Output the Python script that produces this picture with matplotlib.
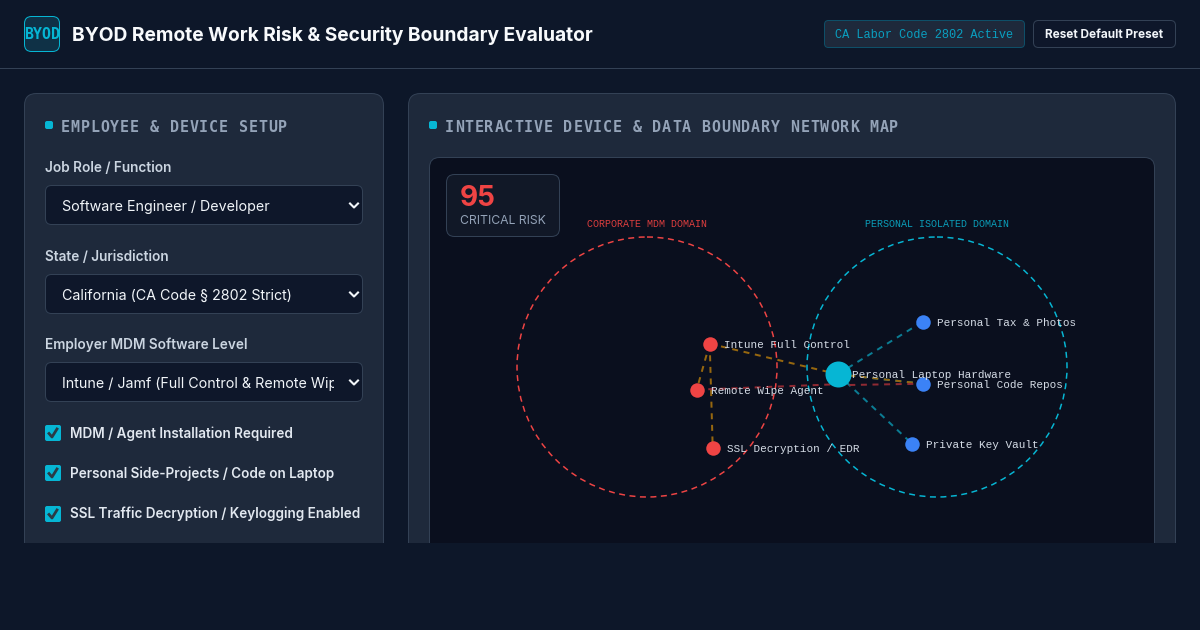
import matplotlib
matplotlib.use("Agg")
import matplotlib.pyplot as plt
from matplotlib.patches import Circle, FancyBboxPatch, Rectangle

BG = "#0d1729"
CARD = "#1e293b"
BORDER = "#334155"
INPUT_BG = "#0e172a"
MAP_BG = "#0a0f1e"
CYAN = "#06b6d4"
RED = "#ef4444"
BLUE = "#3b82f6"
AMBER = "#96670f"
TEAL = "#0b7c93"
DARK_RED = "#8f2a33"
SANS = "Inter"
MONO = "Liberation Mono"
HEAD_MONO = "DejaVu Sans Mono"

# network map data
corp_nodes = ["Intune Full Control", "Remote Wipe Agent", "SSL Decryption / EDR"]
corp_x = [709.7, 696.7, 712.7]
corp_y = [343.7, 389.7, 447.7]
personal_nodes = ["Personal Tax & Photos", "Personal Code Repos", "Private Key Vault"]
personal_x = [922.7, 922.7, 912]
personal_y = [321.7, 383.7, 443.7]
hub_name = "Personal Laptop Hardware"
hub_x = 837.7
hub_y = 374.2
domain_names = ["CORPORATE MDM DOMAIN", "PERSONAL ISOLATED DOMAIN"]
domain_x = [647, 937]
domain_y = [367, 367]
domain_r = 130

# form data
select_labels = ["Job Role / Function", "State / Jurisdiction", "Employer MDM Software Level"]
select_values = ["Software Engineer / Developer", "California (CA Code § 2802 Strict)",
                 "Intune / Jamf (Full Control & Remote Wipe)"]
select_tops = [185, 274, 362]
check_labels = ["MDM / Agent Installation Required", "Personal Side-Projects / Code on Laptop",
                "SSL Traffic Decryption / Keylogging Enabled"]
check_y = [433, 473, 513]
check_box_y = [433, 473, 514]
risk_score = "95"
risk_label = "CRITICAL RISK"


def round_box(ax, x, y, w, h, r, fc, ec, z=1, lw=0.72, clip=None):
    box = FancyBboxPatch((x, y), w, h, boxstyle=f"round,pad=0,rounding_size={r}",
                         fc=fc, ec=ec, lw=lw, zorder=z)
    ax.add_patch(box)
    if clip is not None:
        box.set_clip_path(clip)
    return box


def px(size):
    return size * 0.72


def spaced_text(ax, x, y, s, pitch, **kw):
    # monospace with css letter-spacing
    for i, ch in enumerate(s):
        if ch != " ":
            ax.text(x + i * pitch, y, ch, **kw)


def link(ax, xs, ys, col):
    ax.plot(xs, ys, color=col, lw=1.44, ls=(0, (3, 2.8)), zorder=4)


fig = plt.figure(figsize=(12, 6.3), dpi=100, facecolor=BG)
ax = fig.add_axes([0, 0, 1, 1])
ax.set_xlim(0, 1200)
ax.set_ylim(630, 0)
ax.axis("off")

# page is cut off at y=543
page_clip = Rectangle((0, 0), 1200, 543, transform=ax.transData)

# header
ax.plot([0, 1200], [68, 68], color=BORDER, lw=0.72, zorder=1)
round_box(ax, 24.5, 16.5, 35, 35, 7, "#0f3146", CYAN)
ax.text(42, 34.5, "BYOD", color=CYAN, fontsize=px(15), family=HEAD_MONO, weight="bold", ha="center",
        va="center", zorder=3)
ax.text(72, 35.5, "BYOD Remote Work Risk & Security Boundary Evaluator", color="#f8fafc", fontsize=px(19.2),
        family=SANS, weight="bold", va="center")
round_box(ax, 824.5, 20.5, 200, 27, 4, CARD, "#0e4f68")
ax.text(835, 34.5, "CA Labor Code 2802 Active", color="#0a9fc0", fontsize=px(11.9), family=MONO, va="center")
round_box(ax, 1033.5, 20.5, 142, 27, 5, INPUT_BG, BORDER)
ax.text(1104.5, 34.5, "Reset Default Preset", color="#f1f5f9", fontsize=px(11.8), family=SANS, weight="bold",
        ha="center", va="center")

# cards
round_box(ax, 24.5, 93.5, 359, 520, 12, CARD, BORDER, clip=page_clip)
round_box(ax, 408.5, 93.5, 767, 520, 12, CARD, BORDER, clip=page_clip)
round_box(ax, 45, 121, 8, 8, 2, CYAN, "none", z=2)
round_box(ax, 429, 121, 8, 8, 2, CYAN, "none", z=2)
head_style = dict(color="#94a3b8", fontsize=px(15), family=HEAD_MONO, weight="bold", va="center", zorder=3)
spaced_text(ax, 61, 127, "EMPLOYEE & DEVICE SETUP", 9.87, **head_style)
spaced_text(ax, 445, 127, "INTERACTIVE DEVICE & DATA BOUNDARY NETWORK MAP", 9.87, **head_style)

# form selects
for lab, val, top in zip(select_labels, select_values, select_tops):
    ax.text(45, top - 17, lab, color="#cbd5e1", fontsize=px(13.6), family=SANS, weight="semibold",
            va="center", zorder=3)
    round_box(ax, 45.5, top + 0.5, 317, 39, 6, INPUT_BG, BORDER, z=2)
    t = ax.text(62, top + 22, val, color="#f1f5f9", fontsize=px(14.3), family=SANS, va="center", zorder=3)
    # long options get cut before the arrow
    t.set_clip_on(True)
    t.set_clip_path(Rectangle((50, top), 284, 40, transform=ax.transData))
    ax.plot([350, 354, 358], [top + 18.5, top + 22.5, top + 18.5], color="#f1f5f9", lw=1.5, zorder=3)

# checkboxes
for lab, cy, by in zip(check_labels, check_y, check_box_y):
    round_box(ax, 45, by - 8, 16, 16, 2, CYAN, "none", z=2)
    ax.plot([49, 52, 57], [by + 0.5, by + 4, by - 4], color="#2b3a45", lw=2, zorder=3)
    ax.text(70.5, cy + 0.5, lab, color="#e2e8f0", fontsize=px(13.5), family=SANS, weight="semibold",
            va="center", zorder=3)

# map area
round_box(ax, 429.5, 157.5, 725, 440, 10, MAP_BG, BORDER, z=2, clip=page_clip)
round_box(ax, 446.5, 174.5, 113, 62, 8, "#111827", BORDER, z=3)
ax.text(460, 199, risk_score, color=RED, fontsize=px(28), family=SANS, weight="bold", va="center", zorder=4)
ax.text(460, 220.5, risk_label, color="#94a3b8", fontsize=px(12.2), family=SANS, va="center", zorder=4)

# domains
for name, dx, dy, col, lc in zip(domain_names, domain_x, domain_y, [RED, CYAN], ["#dd3e3e", "#0a9db8"]):
    ax.add_patch(Circle((dx, dy), domain_r, fc="none", ec=col, lw=1.08, ls=(0, (4, 3)), zorder=3))
    ax.text(dx, 224, name, color=lc, fontsize=px(10), family=MONO, ha="center", va="center", zorder=4)

# links
for x, y in zip(personal_x, personal_y):
    link(ax, [hub_x, x], [hub_y, y], TEAL)
link(ax, [corp_x[0], hub_x], [corp_y[0], hub_y], AMBER)
link(ax, [corp_x[0], corp_x[1]], [corp_y[0], corp_y[1]], AMBER)
link(ax, [corp_x[0], corp_x[2]], [corp_y[0], corp_y[2]], AMBER)
link(ax, [hub_x, personal_x[1]], [hub_y, personal_y[1]], AMBER)
link(ax, [corp_x[1], hub_x], [corp_y[1], hub_y + 10], DARK_RED)
link(ax, [hub_x, personal_x[1]], [hub_y + 11, personal_y[1]], DARK_RED)

# nodes
lab_col = "#d5dce6"
ax.scatter(corp_x, corp_y, s=(14.5 * 0.72) ** 2, color=RED, zorder=5, linewidths=0)
ax.scatter(personal_x, personal_y, s=(14.5 * 0.72) ** 2, color=BLUE, zorder=5, linewidths=0)
ax.scatter([hub_x], [hub_y], s=(26 * 0.72) ** 2, color=CYAN, zorder=5, linewidths=0)
for name, x, y in zip(corp_nodes + personal_nodes, corp_x + personal_x, corp_y + personal_y):
    ax.text(x + 14, y + 0.8, name, color=lab_col, fontsize=px(11), family=MONO, va="center", zorder=6)
ax.text(hub_x + 14, hub_y + 0.3, hub_name, color=lab_col, fontsize=px(11), family=MONO, va="center", zorder=6)

fig.savefig("out.png", dpi=100, facecolor=BG)
